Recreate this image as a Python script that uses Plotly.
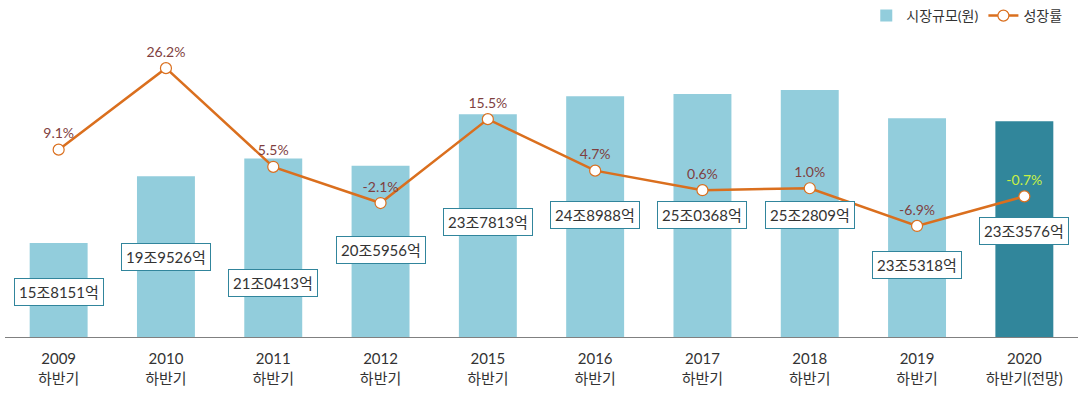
import plotly.graph_objects as go

categories = ["2009<br>하반기", "2010<br>하반기", "2011<br>하반기", "2012<br>하반기", "2015<br>하반기",
              "2016<br>하반기", "2017<br>하반기", "2018<br>하반기", "2019<br>하반기", "2020<br>하반기(전망)"]
market_size = [158151, 199526, 210413, 205956, 237813, 248988, 250368, 252809, 235318, 233576]  # 억원
growth = [9.1, 26.2, 5.5, -2.1, 15.5, 4.7, 0.6, 1.0, -6.9, -0.7]
size_labels = ["15조8151억", "19조9526억", "21조0413억", "20조5956억", "23조7813억",
               "24조8988억", "25조0368억", "25조2809억", "23조5318억", "23조3576억"]

# label placement (y in 억원 axis units)
label_pos = [127850, 149511, 133420, 153843, 171172, 175505, 175505, 175505, 144560, 165602]

FONT = "Lato, 'Noto Sans CJK KR', sans-serif"
bar_colors = ["#92CDDC"] * 9 + ["#31869B"]
text_colors = ["#7F3F3F"] * 9 + ["#C8F046"]
LINE_C = "#DA6F1E"

fig = go.Figure()
fig.add_trace(go.Bar(
    x=categories, y=market_size, name="시장규모(원)",
    marker=dict(color=bar_colors, line=dict(width=0)),
    hoverinfo="skip",
))
fig.add_trace(go.Scatter(
    x=categories, y=growth, name="성장률", yaxis="y2",
    mode="lines+markers+text",
    line=dict(color=LINE_C, width=2.5),
    marker=dict(symbol="circle", size=11, color="white", line=dict(color=LINE_C, width=1.2)),
    text=[f"{g:.1f}%" for g in growth],
    textposition="top center",
    textfont=dict(color=text_colors, size=14, family=FONT),
))

for c, lab, ly in zip(categories, size_labels, label_pos):
    fig.add_annotation(
        x=c, y=ly, xref="x", yref="y", text=lab, showarrow=False,
        font=dict(size=15, color="#333333", family=FONT),
        bgcolor="white", bordercolor="#31859C", borderwidth=1, borderpad=4,
    )

fig.update_layout(
    width=1085, height=396,
    margin=dict(l=5, r=7, t=30, b=59, autoexpand=False),
    plot_bgcolor="white", paper_bgcolor="white",
    bargap=0.46,
    font=dict(family=FONT, size=14, color="#333333"),
    showlegend=True,
    legend=dict(orientation="h", x=0.99, xanchor="right", y=1.0, yref="container",
                yanchor="top", font=dict(size=14, color="#333333"), bgcolor="rgba(0,0,0,0)",
                itemwidth=30, tracegroupgap=0),
    xaxis=dict(showline=True, linecolor="#808080", linewidth=1, ticks="outside", ticklen=8,
               tickcolor="rgba(0,0,0,0)", tickfont=dict(size=15, color="#333333"),
               showgrid=False, automargin=False, range=[-0.5, 9.5]),
    yaxis=dict(range=[100000, 290000], visible=False, showgrid=False, automargin=False),
    yaxis2=dict(range=[-30.2, 34.2], overlaying="y", visible=False, showgrid=False, automargin=False),
)

fig.write_html("out.html", config={"displayModeBar": False},
               post_script="document.body.style.margin='0';")
